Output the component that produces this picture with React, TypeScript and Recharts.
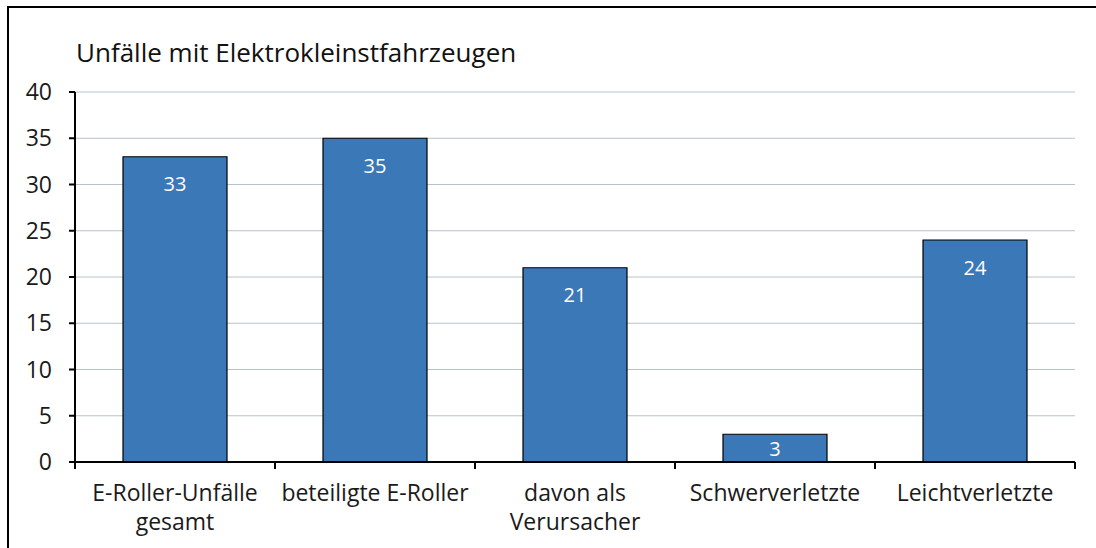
import React from 'react';
import { BarChart, Bar, XAxis, YAxis, CartesianGrid, LabelList } from 'recharts';

const categories = ['E-Roller-Unfälle\ngesamt', 'beteiligte E-Roller', 'davon als\nVerursacher', 'Schwerverletzte', 'Leichtverletzte'];
const unfaelle = [33, 35, 21, 3, 24];
const yTicks = [0, 5, 10, 15, 20, 25, 30, 35, 40];

const data = categories.map((name, i) => ({ name, value: unfaelle[i] }));

const FONT = "'Open Sans', 'Noto Sans', sans-serif";
const CHART_W = 1096;
const CHART_H = 548;
const MARGIN = { top: 92, right: 21, bottom: 0, left: 0 };
const Y_WIDTH = 75;
const X_HEIGHT = 86;
const bandWidth = (CHART_W - MARGIN.left - MARGIN.right - Y_WIDTH) / categories.length;

const CategoryTick = (props: any) => {
  const { x, y, payload, index } = props;
  const lines = String(payload.value).split('\n');
  const axisY = y - 8;
  return (
    <g>
      <line x1={x - bandWidth / 2} x2={x - bandWidth / 2} y1={axisY} y2={axisY + 7} stroke="#000" strokeWidth={2} />
      {index === categories.length - 1 && (
        <line x1={x + bandWidth / 2} x2={x + bandWidth / 2} y1={axisY} y2={axisY + 7} stroke="#000" strokeWidth={2} />
      )}
      <text x={x} y={axisY + 39} textAnchor="middle" fontFamily={FONT} fontSize={23} fill="#1a1a1a">
        {lines.map((l, i) => (
          <tspan key={i} x={x} dy={i === 0 ? 0 : 29}>{l}</tspan>
        ))}
      </text>
    </g>
  );
};

// value label inside the bar, near the top; centred when the bar is short
const BarValue = (props: any) => {
  const { x, y, width, height, value } = props;
  const cy = y + Math.min(27, height / 2);
  return (
    <text
      x={x + width / 2}
      y={cy}
      textAnchor="middle"
      dominantBaseline="central"
      fontFamily={FONT}
      fontSize={20}
      fill="#fff"
    >
      {value}
    </text>
  );
};

export default function App() {
  return (
    <div style={{ position: 'absolute', left: 0, top: 0, width: CHART_W, height: CHART_H, background: '#fff' }}>
      <div
        style={{
          position: 'absolute',
          left: 7,
          top: 6,
          width: CHART_W - 7,
          height: CHART_H - 6,
          borderLeft: '2px solid #000',
          borderTop: '2px solid #000',
          boxSizing: 'border-box',
        }}
      />
      <div
        style={{
          position: 'absolute',
          left: 76,
          top: 35,
          fontFamily: FONT,
          fontSize: 26,
          lineHeight: '34px',
          color: '#111',
          whiteSpace: 'nowrap',
        }}
      >
        Unfälle mit Elektrokleinstfahrzeugen
      </div>
      <div style={{ position: 'absolute', left: 0, top: 0 }}>
        <BarChart width={CHART_W} height={CHART_H} data={data} margin={MARGIN} barCategoryGap="24%">
          <CartesianGrid horizontal vertical={false} stroke="#b8c2cc" strokeWidth={1} />
          <XAxis
            dataKey="name"
            height={X_HEIGHT}
            axisLine={{ stroke: '#000', strokeWidth: 2 }}
            tickLine={false}
            interval={0}
            tick={<CategoryTick />}
          />
          <YAxis
            width={Y_WIDTH}
            domain={[0, 40]}
            ticks={yTicks}
            interval={0}
            axisLine={{ stroke: '#000', strokeWidth: 2 }}
            tickLine={{ stroke: '#000', strokeWidth: 2 }}
            tickSize={6}
            tickMargin={17}
            tick={{ fontFamily: FONT, fontSize: 23, fill: '#1a1a1a' }}
          />
          <Bar dataKey="value" fill="#3b78b8" stroke="#000" strokeWidth={1.2} isAnimationActive={false}>
            <LabelList dataKey="value" content={<BarValue />} />
          </Bar>
        </BarChart>
      </div>
    </div>
  );
}
